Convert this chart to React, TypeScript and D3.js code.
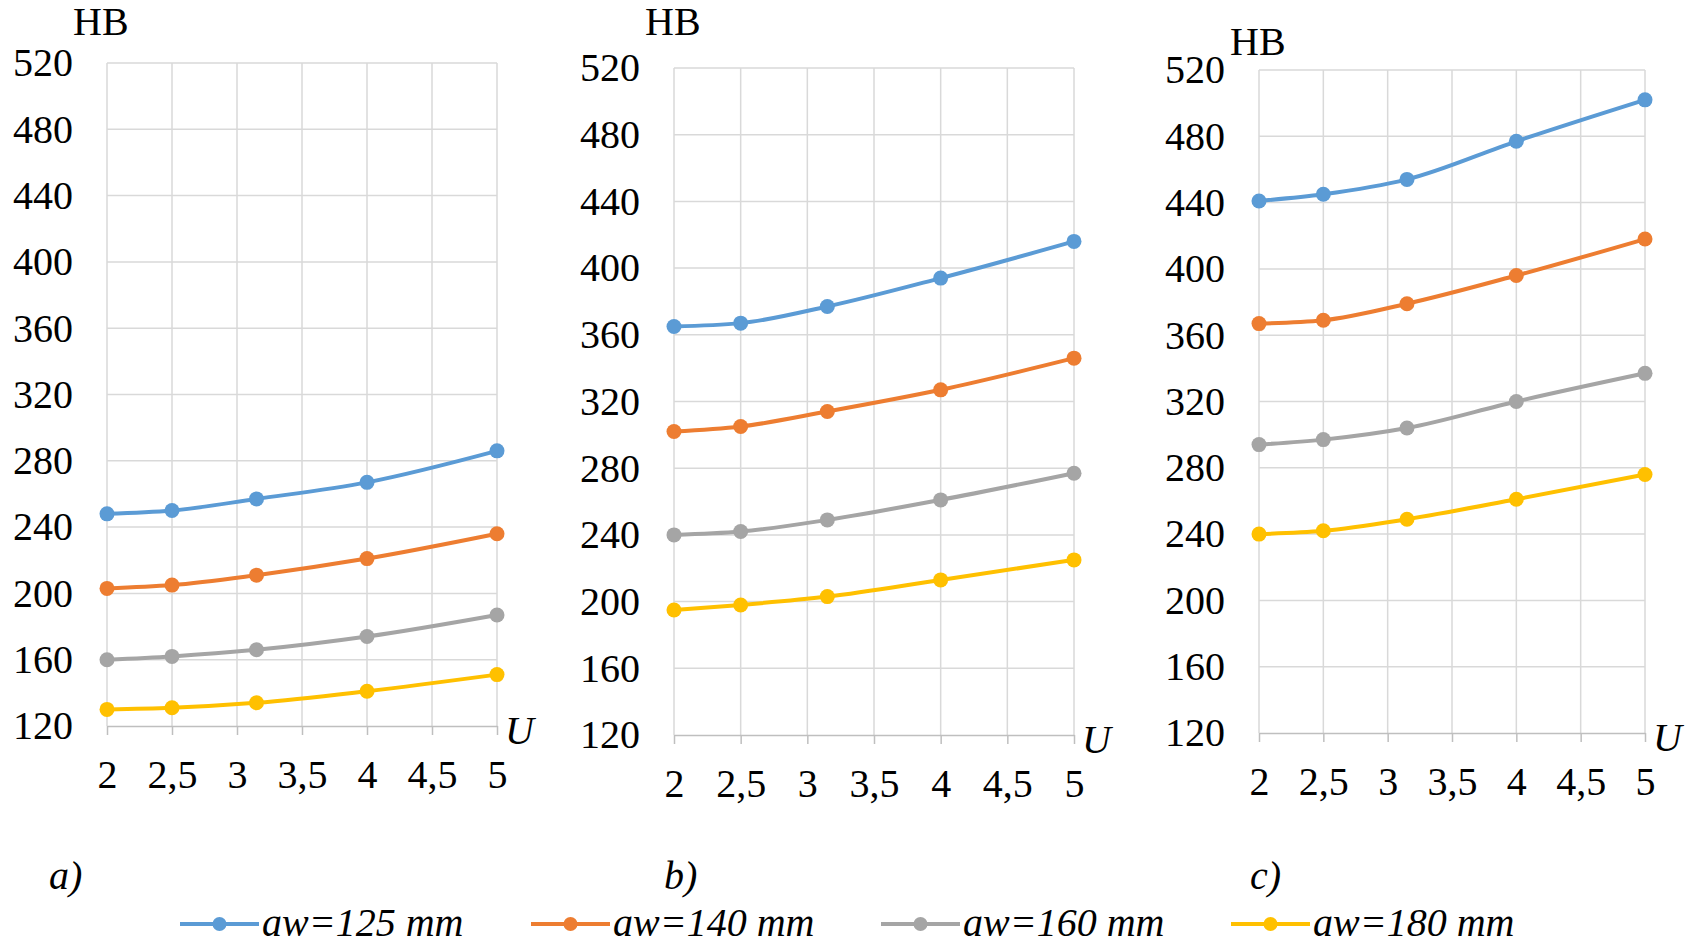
import React, { useEffect, useRef } from 'react';
import * as d3 from 'd3';

// gear ratio U where the points sit
const U_VALUES = [2, 2.5, 3.15, 4, 5];
const X_TICKS = [2, 2.5, 3, 3.5, 4, 4.5, 5];
const Y_TICKS = [120, 160, 200, 240, 280, 320, 360, 400, 440, 480, 520];

const SERIES_NAMES = ['aw=125 mm', 'aw=140 mm', 'aw=160 mm', 'aw=180 mm'];
const COLORS = ['#5B9BD5', '#ED7D31', '#A5A5A5', '#FFC000'];

// panel a)
const A_125 = [248, 250, 257, 267, 286];
const A_140 = [203, 205, 211, 221, 236];
const A_160 = [160, 162, 166, 174, 187];
const A_180 = [130, 131, 134, 141, 151];

// panel b)
const B_125 = [365, 367, 377, 394, 416];
const B_140 = [302, 305, 314, 327, 346];
const B_160 = [240, 242, 249, 261, 277];
const B_180 = [195, 198, 203, 213, 225];

// panel c)
const C_125 = [441, 445, 454, 477, 502];
const C_140 = [367, 369, 379, 396, 418];
const C_160 = [294, 297, 304, 320, 337];
const C_180 = [240, 242, 249, 261, 276];

const PANEL_DATA = [
  [A_125, A_140, A_160, A_180],
  [B_125, B_140, B_160, B_180],
  [C_125, C_140, C_160, C_180],
];
const PANEL_LABELS = ['a)', 'b)', 'c)'];

const W = 1706;
const H = 948;
const FONT = 'Liberation Serif, DejaVu Serif, serif';

// plot frames of the three panels
const FRAMES = [
  { left: 107, right: 497, top: 63, bottom: 726, hbX: 73, hbY: 35, labX: 49 },
  { left: 674, right: 1074, top: 68, bottom: 735, hbX: 645, hbY: 35, labX: 664 },
  { left: 1259, right: 1645, top: 70, bottom: 733, hbX: 1230, hbY: 55, labX: 1250 },
];
const LEGEND_X = [180, 531, 881, 1231];

const fmt = (d: number) => String(d).replace('.', ',');

const App: React.FC = () => {
  const svgRef = useRef<SVGSVGElement>(null);

  useEffect(() => {
    const svg = d3.select(svgRef.current);
    svg.selectAll('*').remove();

    FRAMES.forEach((f, pi) => {
      const x = d3.scaleLinear().domain([2, 5]).range([f.left, f.right]);
      const y = d3.scaleLinear().domain([120, 520]).range([f.bottom, f.top]);
      const g = svg.append('g');

      // grid
      g.selectAll('.hgrid')
        .data(Y_TICKS.slice(1))
        .enter()
        .append('line')
        .attr('x1', f.left)
        .attr('x2', f.right)
        .attr('y1', d => y(d))
        .attr('y2', d => y(d))
        .attr('stroke', '#d9d9d9')
        .attr('stroke-width', 1.5);

      g.selectAll('.vgrid')
        .data(X_TICKS)
        .enter()
        .append('line')
        .attr('x1', d => x(d))
        .attr('x2', d => x(d))
        .attr('y1', f.top)
        .attr('y2', f.bottom)
        .attr('stroke', '#d9d9d9')
        .attr('stroke-width', 1.5);

      // y axis labels
      const yAxis = g.append('g')
        .attr('transform', `translate(${f.left},0)`)
        .call(d3.axisLeft(y).tickValues(Y_TICKS).tickSize(0).tickPadding(34));
      yAxis.attr('font-family', FONT).attr('font-size', 40);
      yAxis.select('.domain').remove();
      yAxis.selectAll('text').attr('fill', '#000');

      // x axis
      const xAxis = g.append('g')
        .attr('transform', `translate(0,${f.bottom})`)
        .call(d3.axisBottom(x).tickValues(X_TICKS).tickSize(9).tickPadding(25).tickFormat(d => fmt(d as number)).tickSizeOuter(0));
      xAxis.attr('font-family', FONT).attr('font-size', 40);
      xAxis.select('.domain').attr('stroke', '#bfbfbf').attr('stroke-width', 1.5);
      xAxis.selectAll('line').attr('stroke', '#bfbfbf').attr('stroke-width', 1.5);
      xAxis.selectAll('text').attr('fill', '#000');

      // series
      const line = d3.line<number>()
        .x((_, i) => x(U_VALUES[i]))
        .y(d => y(d))
        .curve(d3.curveMonotoneX);

      PANEL_DATA[pi].forEach((vals, si) => {
        g.append('path')
          .datum(vals)
          .attr('d', line)
          .attr('fill', 'none')
          .attr('stroke', COLORS[si])
          .attr('stroke-width', 4);
        g.selectAll(`.pt${si}`)
          .data(vals)
          .enter()
          .append('circle')
          .attr('cx', (_, i) => x(U_VALUES[i]))
          .attr('cy', d => y(d))
          .attr('r', 7.5)
          .attr('fill', COLORS[si]);
      });

      // titles
      g.append('text')
        .attr('x', f.hbX)
        .attr('y', f.hbY)
        .attr('font-family', FONT)
        .attr('font-size', 40)
        .text('HB');

      g.append('text')
        .attr('x', f.right + 8)
        .attr('y', f.bottom + 18)
        .attr('font-family', FONT)
        .attr('font-size', 40)
        .attr('font-style', 'italic')
        .text('U');

      g.append('text')
        .attr('x', f.labX)
        .attr('y', 889)
        .attr('font-family', FONT)
        .attr('font-size', 40)
        .attr('font-style', 'italic')
        .text(PANEL_LABELS[pi]);
    });

    // legend
    const legend = svg.selectAll('.legend')
      .data(SERIES_NAMES)
      .enter()
      .append('g')
      .attr('class', 'legend')
      .attr('transform', (_, i) => `translate(${LEGEND_X[i]},924)`);

    legend.append('line')
      .attr('x1', 0)
      .attr('x2', 79)
      .attr('stroke', (_, i) => COLORS[i])
      .attr('stroke-width', 4);
    legend.append('circle')
      .attr('cx', 39.5)
      .attr('r', 7)
      .attr('fill', (_, i) => COLORS[i]);
    legend.append('text')
      .attr('x', 82)
      .attr('y', 12)
      .attr('font-family', FONT)
      .attr('font-size', 40)
      .attr('font-style', 'italic')
      .text(d => d);
  }, []);

  return (
    <>
      <style>{'body{margin:0}'}</style>
      <svg ref={svgRef} width={W} height={H} style={{ display: 'block', background: '#fff' }} />
    </>
  );
};

export default App;
